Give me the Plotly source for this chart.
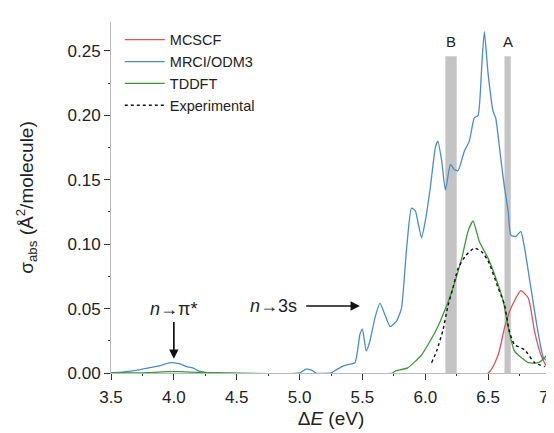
import plotly.graph_objects as go

# ---------------- data ----------------
mrci_E = [3.5, 3.6, 3.7, 3.8, 3.9, 3.97, 4.0, 4.05, 4.1, 4.15, 4.2, 4.25, 4.3,
          5.0, 5.05, 5.1, 5.13, 5.25, 5.3, 5.36, 5.44, 5.48, 5.50, 5.53, 5.56,
          5.60, 5.64, 5.68, 5.72, 5.77, 5.81, 5.85, 5.89, 5.92, 5.97, 6.0, 6.04,
          6.08, 6.10, 6.13, 6.16, 6.20, 6.23, 6.26, 6.31, 6.35, 6.39, 6.42, 6.45,
          6.47, 6.50, 6.54, 6.56, 6.60, 6.63, 6.66, 6.68, 6.72, 6.76, 6.79, 6.84,
          6.90, 6.94, 6.98, 7.0]
mrci_v = [0.0, 0.0008, 0.002, 0.004, 0.006, 0.008, 0.0078, 0.007, 0.005, 0.004, 0.0015, 0.0005, 0.0,
          0.0, 0.003, 0.002, 0.0, 0.0, 0.003, 0.006, 0.008, 0.030, 0.034, 0.017, 0.025,
          0.043, 0.054, 0.045, 0.036, 0.040, 0.050, 0.095, 0.128, 0.126, 0.105, 0.118, 0.144,
          0.175, 0.180, 0.165, 0.142, 0.162, 0.158, 0.157, 0.172, 0.180, 0.198, 0.200, 0.240,
          0.265, 0.232, 0.203, 0.198, 0.167, 0.144, 0.125, 0.107, 0.106, 0.110, 0.097, 0.066,
          0.030, 0.012, 0.009, 0.010]

tddft_E = [3.5, 3.8, 3.95, 4.05, 4.2, 4.4, 5.74, 5.76, 5.86, 5.97, 6.08, 6.14, 6.21,
           6.29, 6.34, 6.38, 6.43, 6.50, 6.56, 6.62, 6.66, 6.71, 6.82, 6.90, 6.95, 7.0]
tddft_v = [0.0, 0.0003, 0.001, 0.001, 0.0005, 0.0, 0.0, 0.0015, 0.004, 0.014, 0.032, 0.045, 0.063,
           0.089, 0.110, 0.118, 0.102, 0.089, 0.074, 0.056, 0.035, 0.017, 0.008, 0.008, 0.012, 0.018]

mcscf_E = [3.5, 6.50, 6.58, 6.63, 6.68, 6.76, 6.82, 6.87, 6.92, 6.98, 7.0]
mcscf_v = [0.0, 0.0, 0.014, 0.035, 0.050, 0.064, 0.058, 0.032, 0.014, 0.002, 0.0]

exp_E = [6.05, 6.09, 6.14, 6.18, 6.22, 6.26, 6.32, 6.39, 6.45, 6.50, 6.58, 6.63,
         6.67, 6.71, 6.79, 6.87, 6.95]
exp_v = [0.008, 0.017, 0.033, 0.052, 0.066, 0.081, 0.091, 0.097, 0.094, 0.087, 0.066, 0.053,
         0.032, 0.022, 0.018, 0.008, 0.005]

band_labels = ["B", "A"]
band_lo = [6.16, 6.63]
band_hi = [6.25, 6.68]
band_top = 0.246

xticks = [3.5, 4.0, 4.5, 5.0, 5.5, 6.0, 6.5, 7.0]
yticks = [0.00, 0.05, 0.10, 0.15, 0.20, 0.25]

FONT = "Liberation Sans, Arial, sans-serif"

fig = go.Figure()

for lo, hi, lab in zip(band_lo, band_hi, band_labels):
    fig.add_shape(type="rect", xref="x", yref="y", x0=lo, x1=hi, y0=0, y1=band_top,
                  fillcolor="#c4c4c4", line=dict(width=0), layer="below")
    fig.add_annotation(x=(lo + hi) / 2, y=band_top + 0.003, text=lab, showarrow=False,
                       font=dict(size=15, color="#222"), yanchor="bottom")

fig.add_trace(go.Scatter(x=mcscf_E, y=mcscf_v, mode="lines", name="MCSCF",
                         line=dict(color="#e0505a", width=1.3, shape="spline", smoothing=0.5)))
fig.add_trace(go.Scatter(x=mrci_E, y=mrci_v, mode="lines", name="MRCI/ODM3",
                         line=dict(color="#4a8cc6", width=1.3, shape="spline", smoothing=0.5)))
fig.add_trace(go.Scatter(x=tddft_E, y=tddft_v, mode="lines", name="TDDFT",
                         line=dict(color="#3a9a3a", width=1.3, shape="spline", smoothing=0.5)))
fig.add_trace(go.Scatter(x=exp_E, y=exp_v, mode="lines", name="Experimental",
                         line=dict(color="#111", width=1.4, dash="dot", shape="spline", smoothing=0.5)))

# annotations: label at arrow tail, arrow pointing to feature
fig.add_annotation(x=4.0, y=0.011, ax=4.0, ay=0.050, axref="x", ayref="y", xref="x", yref="y",
                   text="<i>n</i>→π*", showarrow=True, arrowhead=2, arrowsize=1.1, arrowwidth=1.7,
                   arrowcolor="#111", startstandoff=2, font=dict(size=18, color="#222"))
fig.add_annotation(x=5.48, y=0.052, ax=4.79, ay=0.052, axref="x", ayref="y", xref="x", yref="y",
                   text="<i>n</i>→3s", showarrow=True, arrowhead=2, arrowsize=1.1, arrowwidth=1.7,
                   arrowcolor="#111", startstandoff=8, font=dict(size=18, color="#222"))

fig.update_layout(
    width=554, height=433,
    margin=dict(l=103, r=11, t=14, b=68),
    paper_bgcolor="white", plot_bgcolor="white",
    font=dict(family=FONT, size=15, color="#222"),
    showlegend=True,
    legend=dict(x=0.02, y=0.995, xanchor="left", yanchor="top", bgcolor="rgba(0,0,0,0)",
                font=dict(size=14.5), itemwidth=40),
)
fig.update_xaxes(range=[3.5, 7.0], tickvals=xticks, ticktext=[f"{v:.1f}" for v in xticks],
                 showgrid=False, zeroline=False, showline=True, linecolor="#bbbbbb", linewidth=1,
                 ticks="outside", ticklen=6, tickcolor="#333", tickfont=dict(size=17),
                 ticklabelstandoff=3, ticklabeloverflow="allow", automargin=False,
                 minor=dict(ticks="outside", ticklen=2, tickcolor="#333", dtick=0.25, showgrid=False),
                 title=dict(text="Δ<i>E</i> (eV)", font=dict(size=19), standoff=5))
fig.update_yaxes(range=[0, 0.2725], tickvals=yticks, ticktext=[f"{v:.2f}" for v in yticks],
                 showgrid=False, zeroline=False, showline=True, linecolor="#bbbbbb", linewidth=1,
                 ticks="outside", ticklen=6, tickcolor="#333", tickfont=dict(size=17),
                 automargin=False,
                 minor=dict(ticks="outside", ticklen=2, tickcolor="#333", dtick=0.025, showgrid=False),
                 title=dict(text="σ<sub>abs</sub> (Å<sup>2</sup>/molecule)", font=dict(size=19), standoff=28))

fig.write_html("out.html")
